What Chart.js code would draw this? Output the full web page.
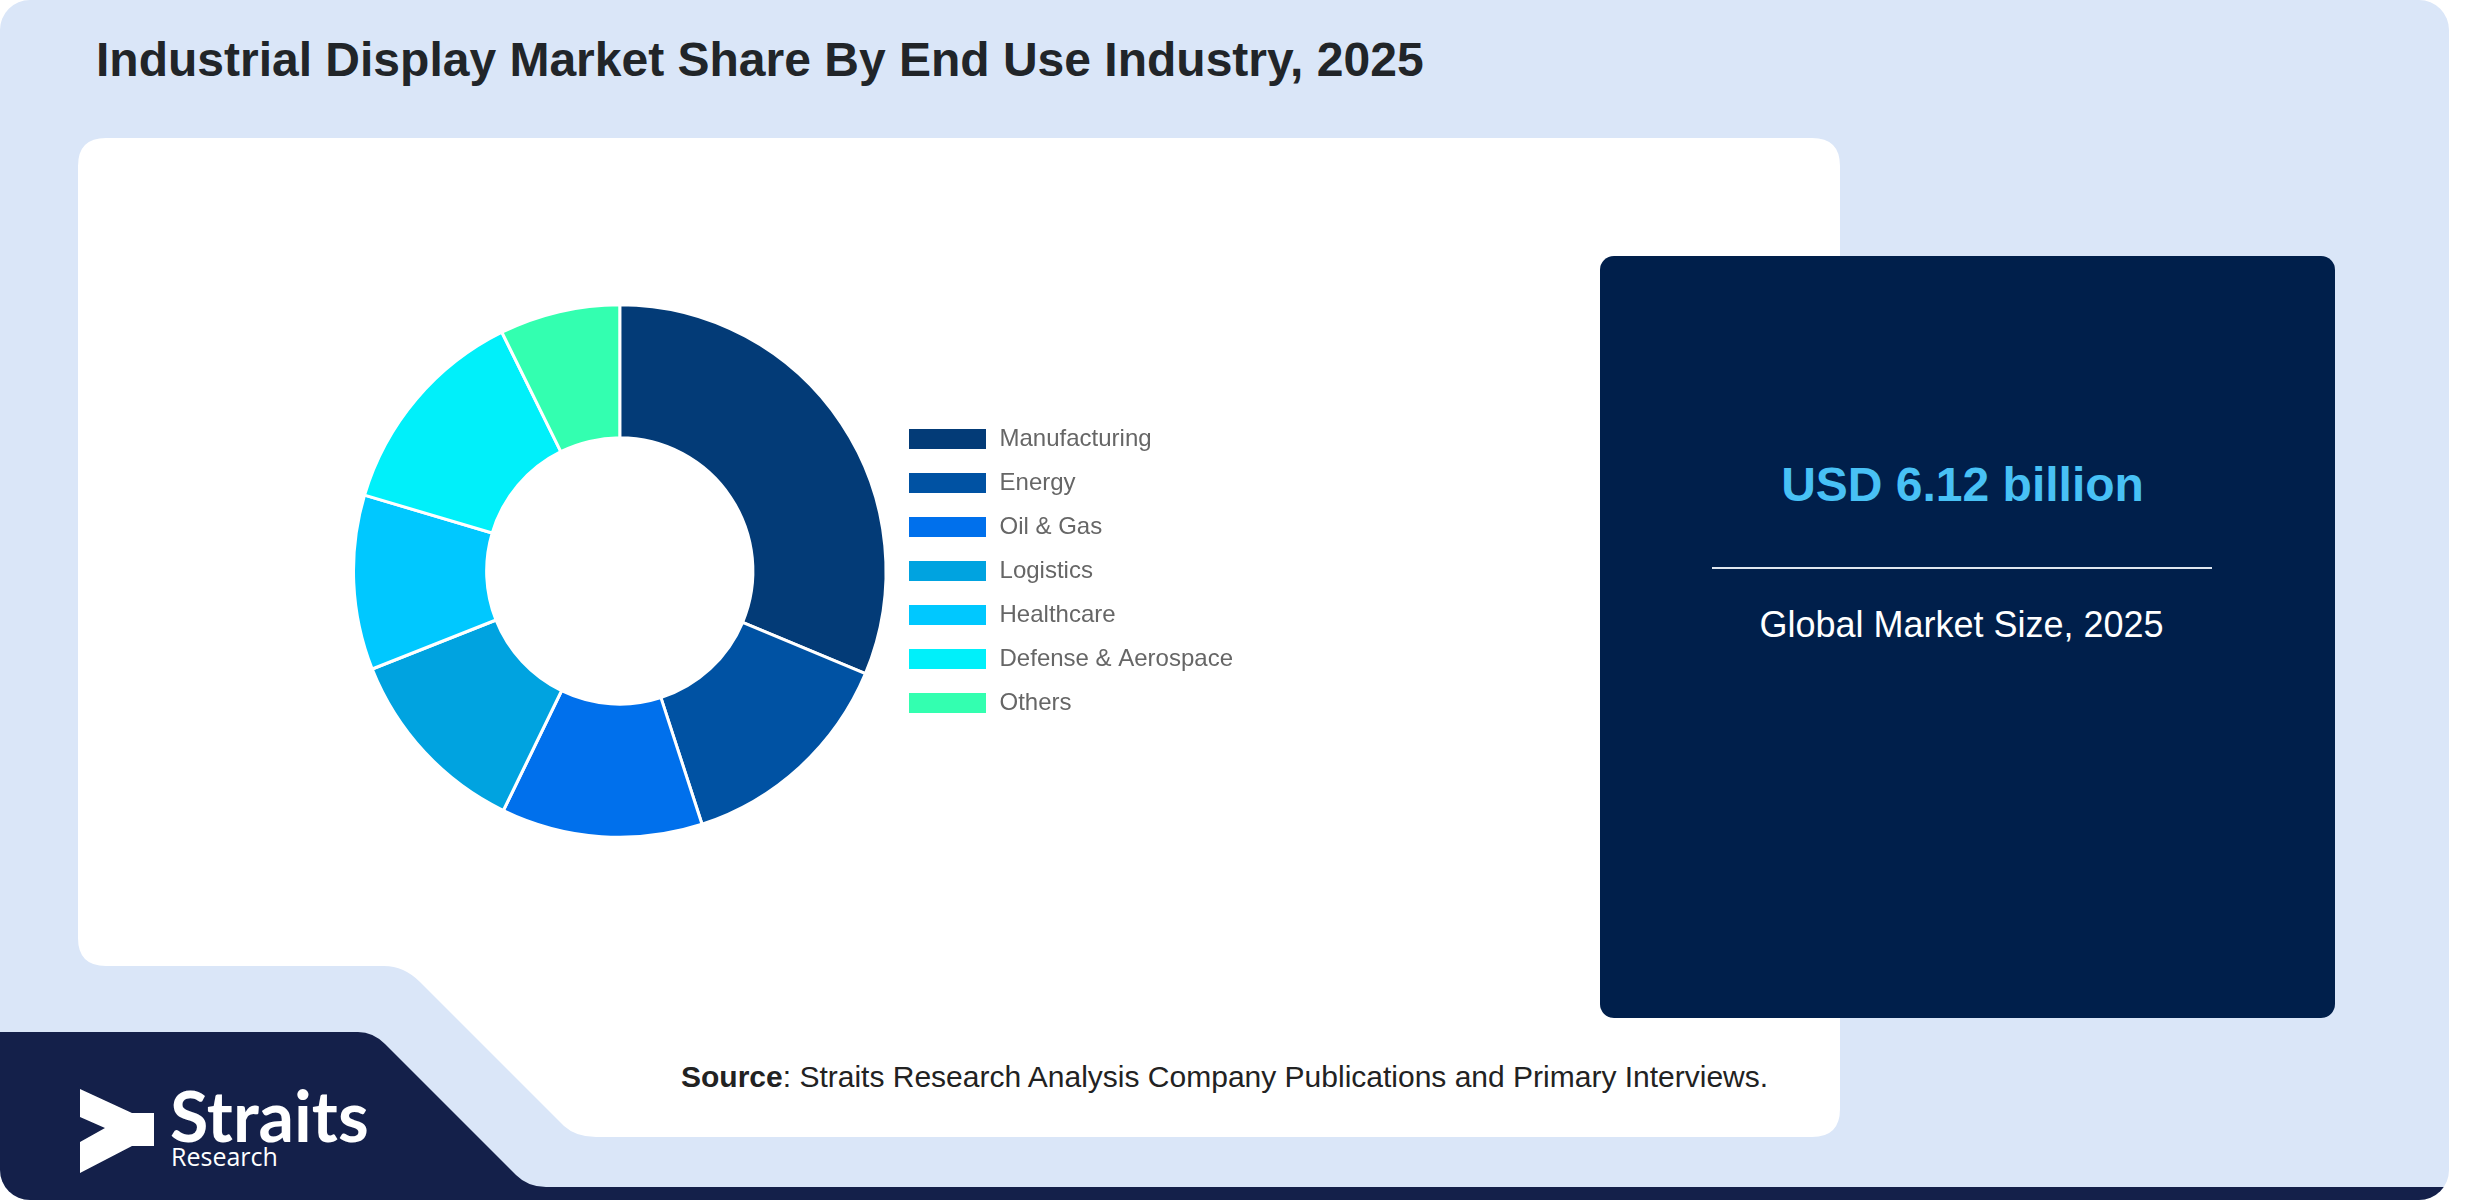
<!DOCTYPE html>
<html>
<head>
    <title>Industrial Display Market Share By End Use Industry, 2025</title>
    <script src="https://cdn.jsdelivr.net/npm/chart.js"></script>
    <style>
        body { margin: 0; width: 2480px; height: 1200px; background: #fff; overflow: hidden;
               font-family: 'Liberation Sans', Arial, sans-serif; }
        #page { position: absolute; left: 0; top: 0; width: 2449px; height: 1200px;
                background: #dae6f8; border-radius: 30px; overflow: hidden; }
        #shapes { position: absolute; left: 0; top: 0; }
        .txt { position: absolute; line-height: 1; white-space: nowrap; }
        #title { left: 96px; top: 36px; font-size: 48px; font-weight: bold; color: #212529; }
        #chartBox { position: absolute; left: 352px; top: 303px; width: 891px; height: 536px; }
        #sizeBox { position: absolute; left: 1600px; top: 256px; width: 735px; height: 762px;
                   background: #001f4b; border-radius: 14px; }
        #usd { left: -5px; width: 735px; top: 205px; text-align: center; font-size: 48px;
               font-weight: bold; color: #48c1f5; }
        #rule { position: absolute; left: 112px; top: 311px; width: 500px; height: 2px; background: #dfe6ef; }
        #global { left: -6px; width: 735px; top: 351px; text-align: center; font-size: 36px; color: #fff; }
        #source { left: 681px; top: 1062px; font-size: 30px; color: #222; }
        #brand { left: 170px; top: 1090px; height: 50px; line-height: 50px; font-family: Lato, sans-serif;
                 font-weight: 700; font-size: 70px; color: #fff; }
        #brandSub { left: 171px; top: 1146px; height: 20px; line-height: 20px; font-family: 'Open Sans', sans-serif;
                    font-size: 25px; color: #fff; }
    </style>
</head>
<body>
<div id="page">
    <svg id="shapes" width="2449" height="1200">
        <path fill="#ffffff" d="M106,138 H1812 Q1840,138 1840,166 V1109 Q1840,1137 1812,1137 H596
                 Q576,1137 564,1126 L420,982 Q404,966 384,966 H106 Q78,966 78,938 V166 Q78,138 106,138 Z"/>
        <path fill="#14204a" d="M0,1032 H358 Q373,1032 385,1044 L516,1175 Q528,1187 546,1187
                 H2449 V1200 H0 Z"/>
        <polygon fill="#ffffff" points="80,1089 132,1113 154,1113 154,1146 132,1146 80,1173 80,1142 105,1128 80,1117"/>
    </svg>
    <div id="title" class="txt">Industrial Display Market Share By End Use Industry, 2025</div>
    <div id="chartBox"><canvas id="shareChart" width="891" height="536"></canvas></div>
    <div id="sizeBox">
        <div id="usd" class="txt">USD 6.12 billion</div>
        <div id="rule"></div>
        <div id="global" class="txt">Global Market Size, 2025</div>
    </div>
    <div id="source" class="txt"><b>Source</b>: Straits Research Analysis Company Publications and Primary Interviews.</div>
    <div id="brand" class="txt">Straits</div>
    <div id="brandSub" class="txt">Research</div>
</div>

<script>
    const industries = ['Manufacturing', 'Energy', 'Oil & Gas', 'Logistics', 'Healthcare', 'Defense & Aerospace', 'Others'];
    const shares = [31.3, 13.7, 12.2, 11.8, 10.6, 13.1, 7.3];
    const sliceColors = ['#033b77', '#0052a3', '#0070ec', '#00a3e0', '#00c8ff', '#00f0fa', '#33ffb0'];

    new Chart(document.getElementById('shareChart'), {
        type: 'doughnut',
        data: {
            labels: industries,
            datasets: [{
                data: shares,
                backgroundColor: sliceColors,
                borderColor: '#ffffff',
                borderWidth: 3,
                hoverOffset: 0
            }]
        },
        options: {
            responsive: false,
            animation: false,
            devicePixelRatio: 1,
            cutout: '50%',
            plugins: {
                tooltip: { enabled: false },
                legend: {
                    position: 'right',
                    labels: {
                        boxWidth: 80,
                        boxHeight: 23,
                        padding: 20,
                        color: '#666',
                        font: { size: 24, family: "'Liberation Sans', Arial, sans-serif" }
                    }
                }
            }
        }
    });
</script>
</body>
</html>
